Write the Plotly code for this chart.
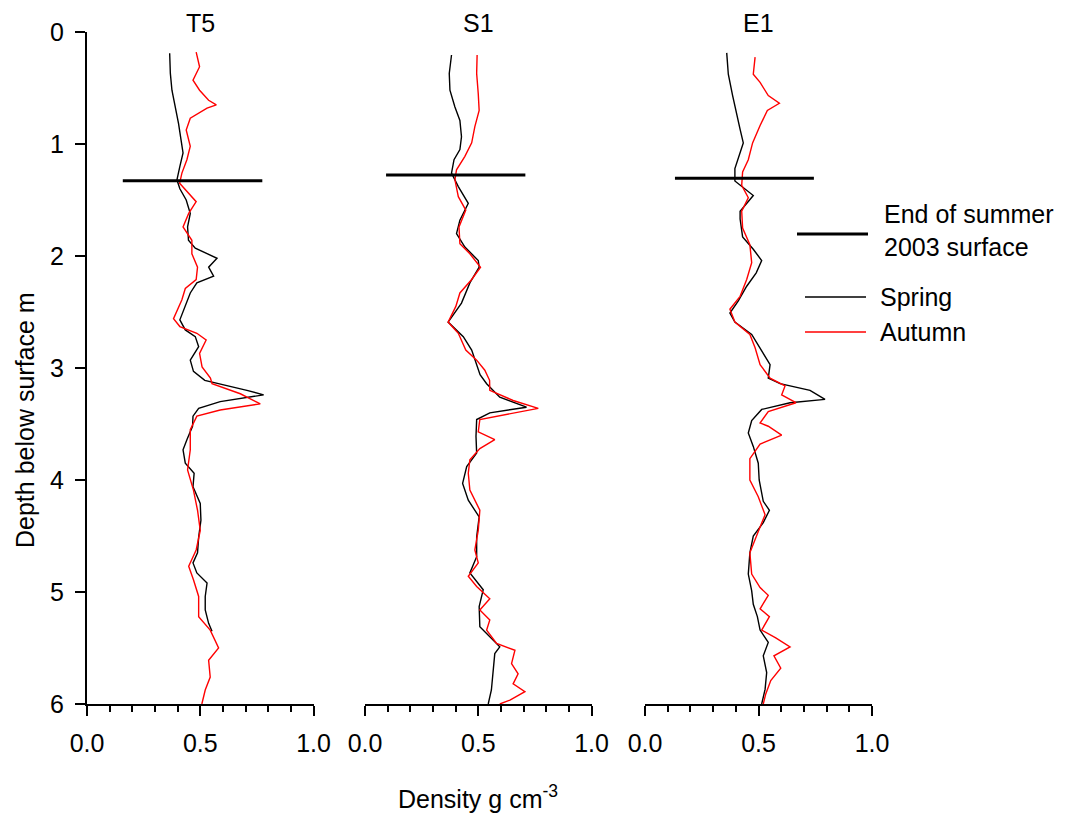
import plotly.graph_objects as go

# ---------------- data ----------------
sites = ["T5", "S1", "E1"]

t5_spring_depth = [0.19, 0.37, 0.52, 0.67, 0.815, 0.96, 1.08, 1.20, 1.32, 1.40, 1.50, 1.62, 1.74, 1.86, 1.93,
                   2.02, 2.10, 2.18, 2.24, 2.33, 2.45, 2.57, 2.66, 2.72, 2.81, 2.93, 3.03, 3.11, 3.20, 3.24,
                   3.30, 3.36, 3.43, 3.52, 3.64, 3.73, 3.85, 3.94, 4.06, 4.21, 4.36, 4.51, 4.65, 4.74, 4.83,
                   4.92, 5.04, 5.16, 5.28, 5.35]
t5_spring_density = [0.365, 0.368, 0.375, 0.39, 0.404, 0.415, 0.424, 0.41, 0.397, 0.41, 0.438, 0.456, 0.444,
                     0.448, 0.478, 0.574, 0.537, 0.559, 0.485, 0.456, 0.434, 0.41, 0.434, 0.478, 0.493, 0.456,
                     0.47, 0.52, 0.706, 0.78, 0.588, 0.493, 0.468, 0.466, 0.441, 0.424, 0.434, 0.473, 0.468,
                     0.50, 0.503, 0.493, 0.488, 0.468, 0.485, 0.53, 0.522, 0.522, 0.537, 0.552]

t5_autumn_depth = [0.18, 0.31, 0.43, 0.52, 0.61, 0.65, 0.68, 0.77, 0.875, 1.02, 1.14, 1.26, 1.35, 1.44, 1.515,
                   1.62, 1.74, 1.86, 1.98, 2.10, 2.21, 2.29, 2.39, 2.56, 2.63, 2.69, 2.75, 2.87, 2.99, 3.09,
                   3.14, 3.23, 3.32, 3.375, 3.43, 3.55, 3.73, 3.91, 4.09, 4.27, 4.45, 4.625, 4.77, 4.89, 5.04,
                   5.22, 5.34, 5.50, 5.61, 5.76, 5.875, 6.0]
t5_autumn_density = [0.482, 0.497, 0.468, 0.497, 0.537, 0.571, 0.53, 0.456, 0.438, 0.456, 0.441, 0.419, 0.409,
                     0.449, 0.482, 0.449, 0.424, 0.463, 0.463, 0.488, 0.482, 0.434, 0.419, 0.382, 0.41, 0.485,
                     0.526, 0.497, 0.508, 0.545, 0.552, 0.677, 0.765, 0.588, 0.485, 0.456, 0.456, 0.444, 0.47,
                     0.488, 0.50, 0.482, 0.449, 0.47, 0.493, 0.493, 0.544, 0.581, 0.537, 0.544, 0.522, 0.507]

s1_spring_depth = [0.205, 0.37, 0.52, 0.67, 0.79, 0.935, 1.05, 1.14, 1.26, 1.38, 1.53, 1.68, 1.80, 1.92, 2.04,
                   2.10, 2.24, 2.42, 2.59, 2.72, 2.84, 2.96, 3.06, 3.14, 3.26, 3.35, 3.40, 3.46, 3.61, 3.76,
                   3.88, 4.03, 4.18, 4.33, 4.51, 4.685, 4.83, 4.98, 5.13, 5.31, 5.49, 5.55, 5.70, 5.875, 6.0]
s1_spring_density = [0.382, 0.372, 0.375, 0.397, 0.419, 0.426, 0.419, 0.393, 0.382, 0.412, 0.456, 0.419,
                     0.404, 0.441, 0.50, 0.504, 0.463, 0.426, 0.367, 0.434, 0.471, 0.493, 0.508, 0.537, 0.595,
                     0.713, 0.551, 0.493, 0.49, 0.493, 0.449, 0.431, 0.456, 0.504, 0.493, 0.493, 0.463, 0.522,
                     0.504, 0.507, 0.595, 0.573, 0.566, 0.558, 0.544]

s1_autumn_depth = [0.205, 0.37, 0.55, 0.70, 0.845, 0.99, 1.11, 1.23, 1.32, 1.47, 1.59, 1.74, 1.89, 1.98, 2.10,
                   2.21, 2.33, 2.45, 2.59, 2.69, 2.84, 2.93, 3.02, 3.11, 3.20, 3.29, 3.36, 3.42, 3.46, 3.57,
                   3.64, 3.72, 3.82, 3.94, 4.09, 4.27, 4.45, 4.625, 4.74, 4.86, 4.95, 5.06, 5.16, 5.25, 5.34,
                   5.46, 5.52, 5.64, 5.73, 5.82, 5.89, 5.965, 6.0]
s1_autumn_density = [0.495, 0.493, 0.50, 0.504, 0.485, 0.471, 0.441, 0.404, 0.397, 0.412, 0.445, 0.415, 0.419,
                     0.463, 0.51, 0.471, 0.419, 0.401, 0.367, 0.412, 0.445, 0.493, 0.529, 0.55, 0.551, 0.654,
                     0.765, 0.61, 0.507, 0.50, 0.573, 0.507, 0.463, 0.456, 0.463, 0.507, 0.50, 0.485, 0.50,
                     0.456, 0.493, 0.551, 0.507, 0.551, 0.537, 0.581, 0.662, 0.647, 0.676, 0.654, 0.706, 0.64,
                     0.595]

e1_spring_depth = [0.186, 0.377, 0.568, 0.72, 0.87, 0.99, 1.10, 1.22, 1.33, 1.41, 1.46, 1.60, 1.67, 1.83, 1.94,
                   2.04, 2.15, 2.27, 2.40, 2.51, 2.59, 2.70, 2.82, 2.97, 3.09, 3.14, 3.20, 3.28, 3.31, 3.37,
                   3.47, 3.58, 3.70, 3.85, 4.00, 4.12, 4.19, 4.27, 4.38, 4.50, 4.65, 4.84, 4.99, 5.11, 5.22,
                   5.34, 5.45, 5.57, 5.72, 5.87, 6.0]
e1_spring_density = [0.36, 0.367, 0.386, 0.401, 0.419, 0.433, 0.416, 0.396, 0.396, 0.448, 0.477, 0.419, 0.419,
                     0.43, 0.477, 0.514, 0.49, 0.448, 0.411, 0.374, 0.396, 0.47, 0.507, 0.551, 0.543, 0.595,
                     0.727, 0.793, 0.639, 0.514, 0.47, 0.455, 0.477, 0.499, 0.503, 0.514, 0.521, 0.548, 0.521,
                     0.477, 0.462, 0.455, 0.47, 0.477, 0.495, 0.507, 0.543, 0.521, 0.536, 0.529, 0.514]

e1_autumn_depth = [0.224, 0.377, 0.45, 0.568, 0.636, 0.70, 0.835, 0.99, 1.14, 1.25, 1.37, 1.48, 1.60, 1.75,
                   1.90, 2.06, 2.21, 2.36, 2.475, 2.59, 2.70, 2.82, 2.97, 3.09, 3.16, 3.24, 3.31, 3.39, 3.49,
                   3.52, 3.60, 3.68, 3.81, 4.00, 4.15, 4.31, 4.46, 4.65, 4.84, 4.96, 5.03, 5.15, 5.22, 5.34,
                   5.41, 5.49, 5.57, 5.68, 5.79, 5.91, 6.0]
e1_autumn_density = [0.485, 0.477, 0.507, 0.543, 0.592, 0.539, 0.507, 0.474, 0.455, 0.43, 0.426, 0.455, 0.426,
                     0.43, 0.462, 0.47, 0.448, 0.419, 0.374, 0.396, 0.462, 0.485, 0.507, 0.551, 0.617, 0.602,
                     0.665, 0.543, 0.507, 0.543, 0.602, 0.507, 0.462, 0.462, 0.499, 0.529, 0.499, 0.462, 0.47,
                     0.507, 0.543, 0.507, 0.548, 0.514, 0.576, 0.639, 0.568, 0.598, 0.554, 0.532, 0.521]

# End of summer 2003 surface: depth and horizontal extent per site
surface_depth = [1.328, 1.277, 1.306]
surface_x_start = [0.158, 0.093, 0.132]
surface_x_end = [0.774, 0.708, 0.744]

spring = [(t5_spring_depth, t5_spring_density), (s1_spring_depth, s1_spring_density),
          (e1_spring_depth, e1_spring_density)]
autumn = [(t5_autumn_depth, t5_autumn_density), (s1_autumn_depth, s1_autumn_density),
          (e1_autumn_depth, e1_autumn_density)]

# ---------------- layout geometry (pixels) ----------------
W, H = 1073, 814
PL, PR, PT, PB = 87, 872, 32, 704
panels_px = [(87, 313.5), (365, 591.5), (645, 872)]
pw = PR - PL
ph = PB - PT

def fx(px):
    return (px - PL) / pw

def fy(py):
    return (PB - py) / ph

FONT = "Liberation Sans, Arial, sans-serif"
FS = 25

fig = go.Figure()

for i in range(3):
    xa = "x" if i == 0 else f"x{i+1}"
    ya = "y" if i == 0 else f"y{i+1}"
    d, v = spring[i]
    fig.add_trace(go.Scatter(x=v, y=d, mode="lines", line=dict(color="black", width=1.4),
                             xaxis=xa, yaxis=ya, showlegend=False, name="Spring"))
    d, v = autumn[i]
    fig.add_trace(go.Scatter(x=v, y=d, mode="lines", line=dict(color="#ff0000", width=1.4),
                             xaxis=xa, yaxis=ya, showlegend=False, name="Autumn"))
    fig.add_trace(go.Scatter(x=[surface_x_start[i], surface_x_end[i]],
                             y=[surface_depth[i], surface_depth[i]], mode="lines",
                             line=dict(color="black", width=3.2), xaxis=xa, yaxis=ya,
                             showlegend=False, name="End of summer 2003 surface"))

axis_common = dict(range=[0, 1], showgrid=False, zeroline=False, showline=True, linecolor="black",
                   linewidth=2, ticks="outside", ticklen=10, tickwidth=2, tickcolor="black",
                   dtick=0.5, tick0=0, tickformat=".1f", ticklabelstandoff=6,
                   tickfont=dict(family=FONT, size=FS, color="black"),
                   minor=dict(ticks="outside", ticklen=6, tickwidth=2, tickcolor="black", dtick=0.1,
                              tick0=0, showgrid=False))

layout = dict(width=W, height=H, margin=dict(l=PL, r=W - PR, t=PT, b=H - PB, pad=0),
              paper_bgcolor="white", plot_bgcolor="white", showlegend=False,
              font=dict(family=FONT, size=FS, color="black"))

for i, (a, b) in enumerate(panels_px):
    key = "xaxis" if i == 0 else f"xaxis{i+1}"
    yk = "yaxis" if i == 0 else f"yaxis{i+1}"
    layout[key] = dict(axis_common, domain=[fx(a), fx(b)], anchor="y" if i == 0 else f"y{i+1}")
    if i == 0:
        layout[yk] = dict(range=[6, 0], domain=[0, 1], anchor="x", showgrid=False, zeroline=False,
                          showline=True, linecolor="black", linewidth=2, ticks="outside", ticklen=10,
                          tickwidth=2, tickcolor="black", dtick=1, tick0=0, ticklabelstandoff=6,
                          tickfont=dict(family=FONT, size=FS, color="black"))
    else:
        layout[yk] = dict(range=[6, 0], domain=[0, 1], anchor=f"x{i+1}", visible=False)

fig.update_layout(**layout)

# panel titles
for i, (a, b) in enumerate(panels_px):
    fig.add_annotation(text=sites[i], x=fx((a + b) / 2), y=fy(23), xref="paper", yref="paper",
                       xanchor="center", yanchor="middle", showarrow=False,
                       font=dict(family=FONT, size=FS, color="black"))

# axis titles
fig.add_annotation(text="Density g cm<sup>-3</sup>", x=fx(478), y=fy(797), xref="paper", yref="paper",
                   xanchor="center", yanchor="middle", showarrow=False,
                   font=dict(family=FONT, size=FS, color="black"))
fig.add_annotation(text="Depth below surface m", x=fx(25), y=fy(420), xref="paper", yref="paper",
                   xanchor="center", yanchor="middle", textangle=-90, showarrow=False,
                   font=dict(family=FONT, size=FS, color="black"))

# legend (drawn manually)
fig.add_shape(type="line", xref="paper", yref="paper", x0=fx(797), x1=fx(868), y0=fy(234), y1=fy(234),
              line=dict(color="black", width=3.2))
fig.add_shape(type="line", xref="paper", yref="paper", x0=fx(805), x1=fx(866), y0=fy(297), y1=fy(297),
              line=dict(color="black", width=1.4))
fig.add_shape(type="line", xref="paper", yref="paper", x0=fx(805), x1=fx(866), y0=fy(332), y1=fy(332),
              line=dict(color="#ff0000", width=1.4))
fig.add_annotation(text="End of summer<br>2003 surface", x=fx(882), y=fy(231), xref="paper", yref="paper",
                   xanchor="left", yanchor="middle", align="left", showarrow=False,
                   font=dict(family=FONT, size=FS, color="black"))
fig.add_annotation(text="Spring", x=fx(878), y=fy(297), xref="paper", yref="paper",
                   xanchor="left", yanchor="middle", showarrow=False,
                   font=dict(family=FONT, size=FS, color="black"))
fig.add_annotation(text="Autumn", x=fx(878), y=fy(332), xref="paper", yref="paper",
                   xanchor="left", yanchor="middle", showarrow=False,
                   font=dict(family=FONT, size=FS, color="black"))

fig.write_html("out.html")
